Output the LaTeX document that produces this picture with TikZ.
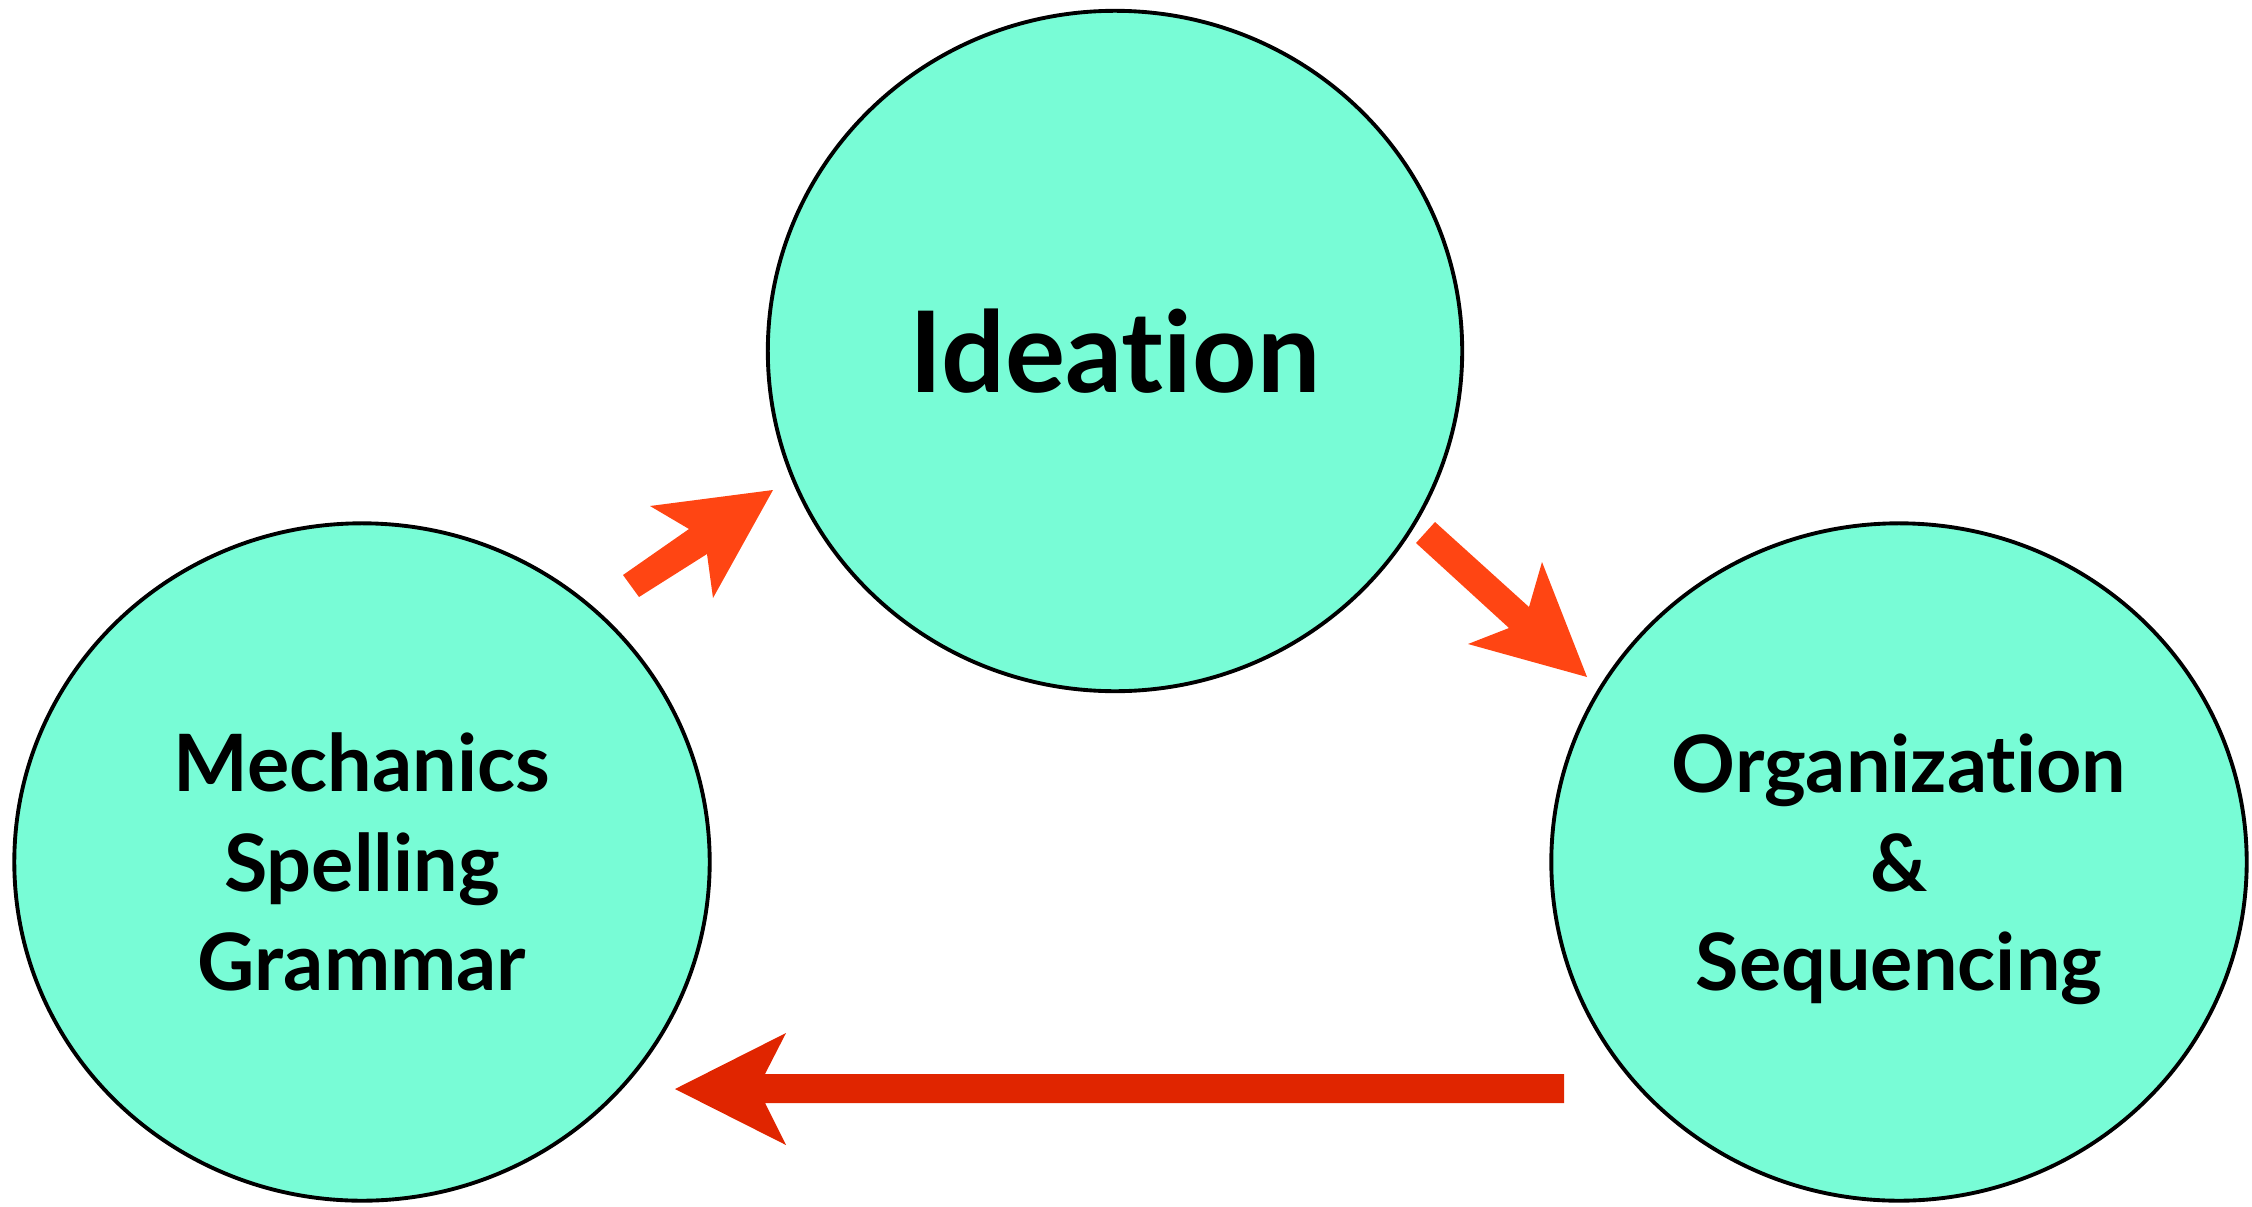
\documentclass[tikz,border=0pt]{standalone}
\usepackage{fontspec}
\setmainfont[RawFeature={-liga;-dlig}]{Lato}
\usetikzlibrary{shapes.geometric}
\definecolor{bubble}{RGB}{120,252,214}
\definecolor{flowA}{RGB}{255,69,19}
\definecolor{flowB}{RGB}{224,37,0}
\tikzset{
  stage/.style={ellipse, draw=black, line width=1.1pt, fill=bubble,
    align=center, inner sep=0pt, font=\bfseries\fontsize{22.5}{28.2}\selectfont}
}
\begin{document}
\begin{tikzpicture}[x=0.01cm, y=-0.01cm]
\useasboundingbox (0,0) rectangle (2252,1206);

% the three stages
\node[stage, minimum width=6.94cm, minimum height=6.80cm,
      font=\bfseries\fontsize{32}{38}\selectfont] (idea) at (1115,351) {Ideation};
\node[stage, minimum width=6.95cm, minimum height=6.77cm] (mech) at (362,862)
  {Mechanics\\Spelling\\Grammar};
\node[stage, minimum width=6.95cm, minimum height=6.77cm] (org) at (1899,862)
  {Organization\\\&\\\smash{Sequencing}};

% block arrow: mechanics -> ideation
\fill[flowA] (623,575) -- (689,529) -- (650,506) -- (773,490)
  -- (713,598) -- (707,554) -- (639,597) -- cycle;
% block arrow: ideation -> organization
\fill[flowA] (1435,522) -- (1529,607) -- (1542,562) -- (1587,677)
  -- (1468,644) -- (1509,628) -- (1416,543) -- cycle;
% block arrow: organization -> mechanics
\fill[flowB] (1564,1074) -- (765,1074) -- (786,1033) -- (675,1089)
  -- (786,1145) -- (765,1103) -- (1564,1103) -- cycle;
\end{tikzpicture}
\end{document}
